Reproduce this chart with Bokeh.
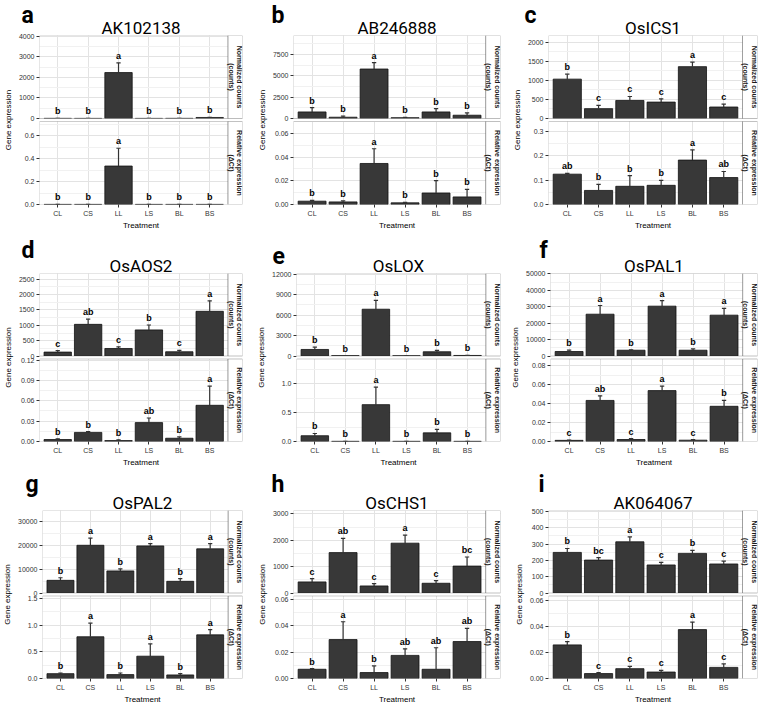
import math
from bokeh.plotting import figure
from bokeh.models import (Range1d, LinearAxis, FixedTicker, Grid, BoxAnnotation, Label, Title)
from bokeh.layouts import column, row
from bokeh.core.properties import value
from bokeh.embed import file_html
from bokeh.resources import INLINE

treatments = ["CL", "CS", "LL", "LS", "BL", "BS"]
top_strip = "Normalized counts\n(counts)"
bot_strip = "Relative expression\n(\u0394Ct)"

# ---- a: AK102138
AK102138_counts = [8, 6, 2230, 6, 8, 50]
AK102138_counts_se = [3, 2, 470, 2, 3, 10]
AK102138_counts_sig = ["b", "b", "a", "b", "b", "b"]
AK102138_rel = [0.001, 0.001, 0.335, 0.001, 0.001, 0.001]
AK102138_rel_se = [0.0003, 0.0002, 0.155, 0.0003, 0.0003, 0.0003]
AK102138_rel_sig = ["b", "b", "a", "b", "b", "b"]
# ---- b: AB246888
AB246888_counts = [770, 150, 5800, 100, 770, 385]
AB246888_counts_se = [500, 120, 740, 40, 380, 265]
AB246888_counts_sig = ["b", "b", "a", "b", "b", "b"]
AB246888_rel = [0.0028, 0.0022, 0.0346, 0.0014, 0.0097, 0.0064]
AB246888_rel_se = [0.0006, 0.0008, 0.0124, 0.0004, 0.0105, 0.0063]
AB246888_rel_sig = ["b", "b", "a", "b", "b", "b"]
# ---- c: OsICS1
OsICS1_counts = [1034, 259, 474, 431, 1362, 302]
OsICS1_counts_se = [130, 86, 104, 86, 121, 77]
OsICS1_counts_sig = ["b", "c", "c", "c", "a", "c"]
OsICS1_rel = [0.125, 0.058, 0.075, 0.079, 0.183, 0.111]
OsICS1_rel_se = [0.003, 0.025, 0.044, 0.020, 0.042, 0.025]
OsICS1_rel_sig = ["ab", "b", "b", "b", "a", "ab"]
# ---- d: OsAOS2
OsAOS2_counts = [128, 1032, 245, 851, 138, 1457]
OsAOS2_counts_se = [50, 170, 53, 160, 43, 341]
OsAOS2_counts_sig = ["c", "ab", "c", "b", "c", "a"]
OsAOS2_rel = [0.0029, 0.0134, 0.0014, 0.0278, 0.0048, 0.0533]
OsAOS2_rel_se = [0.0011, 0.0010, 0.0010, 0.0068, 0.0019, 0.0283]
OsAOS2_rel_sig = ["b", "b", "b", "ab", "b", "a"]
# ---- e: OsLOX
OsLOX_counts = [960, 50, 6864, 30, 624, 80]
OsLOX_counts_se = [336, 20, 1296, 10, 192, 20]
OsLOX_counts_sig = ["b", "b", "a", "b", "b", "b"]
OsLOX_rel = [0.100, 0.003, 0.639, 0.003, 0.150, 0.003]
OsLOX_rel_se = [0.039, 0.001, 0.305, 0.001, 0.061, 0.001]
OsLOX_rel_sig = ["b", "b", "a", "b", "b", "b"]
# ---- f: OsPAL1
OsPAL1_counts = [2745, 25490, 3530, 30390, 3530, 24900]
OsPAL1_counts_se = [785, 5290, 300, 3335, 784, 4120]
OsPAL1_counts_sig = ["b", "a", "b", "a", "b", "a"]
OsPAL1_rel = [0.0012, 0.0434, 0.0021, 0.0538, 0.0014, 0.0372]
OsPAL1_rel_se = [0.0003, 0.0049, 0.0010, 0.0048, 0.0006, 0.0062]
OsPAL1_rel_sig = ["c", "ab", "c", "a", "c", "b"]
# ---- g: OsPAL2
OsPAL2_counts = [5320, 20050, 9280, 19780, 4910, 18550]
OsPAL2_counts_se = [1090, 3000, 820, 960, 1090, 2190]
OsPAL2_counts_sig = ["b", "a", "b", "a", "b", "a"]
OsPAL2_rel = [0.091, 0.784, 0.073, 0.419, 0.067, 0.820]
OsPAL2_rel_se = [0.012, 0.255, 0.030, 0.231, 0.024, 0.097]
OsPAL2_rel_sig = ["b", "a", "b", "a", "b", "a"]
# ---- h: OsCHS1
OsCHS1_counts = [421, 1532, 268, 1890, 370, 1022]
OsCHS1_counts_se = [128, 537, 90, 307, 103, 344]
OsCHS1_counts_sig = ["c", "ab", "c", "a", "c", "bc"]
OsCHS1_rel = [0.0070, 0.0295, 0.0045, 0.0175, 0.0070, 0.0280]
OsCHS1_rel_se = [0.0005, 0.0135, 0.0050, 0.0050, 0.0163, 0.0100]
OsCHS1_rel_sig = ["b", "a", "b", "ab", "ab", "ab"]
# ---- i: AK064067
AK064067_counts = [249, 202, 314, 172, 243, 178]
AK064067_counts_se = [24, 15, 30, 16, 18, 18]
AK064067_counts_sig = ["b", "bc", "a", "c", "b", "c"]
AK064067_rel = [0.0260, 0.0038, 0.0076, 0.0050, 0.0378, 0.0086]
AK064067_rel_se = [0.0025, 0.0007, 0.0017, 0.0013, 0.0058, 0.0027]
AK064067_rel_sig = ["b", "c", "c", "c", "a", "c"]

# axis limits / ticks / decimals
panels = [
    ("a", "AK102138", AK102138_counts, AK102138_counts_se, AK102138_counts_sig,
     AK102138_rel, AK102138_rel_se, AK102138_rel_sig,
     4030, [0, 1000, 2000, 3000, 4000], 0.723, [0, 0.2, 0.4, 0.6], 1),
    ("b", "AB246888", AB246888_counts, AB246888_counts_se, AB246888_counts_sig,
     AB246888_rel, AB246888_rel_se, AB246888_rel_sig,
     9730, [0, 2500, 5000, 7500], 0.070, [0, 0.02, 0.04, 0.06], 2),
    ("c", "OsICS1", OsICS1_counts, OsICS1_counts_se, OsICS1_counts_sig,
     OsICS1_rel, OsICS1_rel_se, OsICS1_rel_sig,
     2180, [0, 500, 1000, 1500, 2000], 0.342, [0, 0.1, 0.2, 0.3], 1),
    ("d", "OsAOS2", OsAOS2_counts, OsAOS2_counts_se, OsAOS2_counts_sig,
     OsAOS2_rel, OsAOS2_rel_se, OsAOS2_rel_sig,
     2690, [0, 500, 1000, 1500, 2000, 2500], 0.1215, [0, 0.03, 0.06, 0.09, 0.12], 2),
    ("e", "OsLOX", OsLOX_counts, OsLOX_counts_se, OsLOX_counts_sig,
     OsLOX_rel, OsLOX_rel_se, OsLOX_rel_sig,
     12100, [0, 3000, 6000, 9000, 12000], 1.43, [0, 0.5, 1.0], 1),
    ("f", "OsPAL1", OsPAL1_counts, OsPAL1_counts_se, OsPAL1_counts_sig,
     OsPAL1_rel, OsPAL1_rel_se, OsPAL1_rel_sig,
     50300, [0, 10000, 20000, 30000, 40000, 50000], 0.0872, [0, 0.02, 0.04, 0.06, 0.08], 2),
    ("g", "OsPAL2", OsPAL2_counts, OsPAL2_counts_se, OsPAL2_counts_sig,
     OsPAL2_rel, OsPAL2_rel_se, OsPAL2_rel_sig,
     34650, [0, 10000, 20000, 30000], 1.55, [0, 0.5, 1.0, 1.5], 1),
    ("h", "OsCHS1", OsCHS1_counts, OsCHS1_counts_se, OsCHS1_counts_sig,
     OsCHS1_rel, OsCHS1_rel_se, OsCHS1_rel_sig,
     3130, [0, 1000, 2000, 3000], 0.0625, [0, 0.02, 0.04, 0.06], 2),
    ("i", "AK064067", AK064067_counts, AK064067_counts_se, AK064067_counts_sig,
     AK064067_rel, AK064067_rel_se, AK064067_rel_sig,
     506, [0, 100, 200, 300, 400, 500], 0.0638, [0, 0.02, 0.04, 0.06], 2),
]

# ---- layout / style
COL_LEFT = [33, 37, 40]
ROW_H = [235, 234, 237]
ROW_TOP = [35, 38, 41]
ROW_BOT = [31, 27, 27]
LETTER_DX = [-18, -22, -24, -18, -24, -11, -17, -22, -10]
ROW_LETTER_STANDOFF = [-23, -17, -11]
PANEL_W = 254
FW, SW, HT, HB, GAP = 194, 15, 83, 83, 3

BAR_FILL = "#383838"
BAR_LINE = "#111111"
GRID = "#e3e3e3"
GRID_MINOR = "#f1f1f1"
BORDER = "#555555"
STRIP_BORDER = "#333333"
TICK_TXT = "#333333"
FONT = "Liberation Sans"


def minor_of(ticks, lim):
    step = ticks[1] - ticks[0]
    return [t + step / 2 for t in ticks if t + step / 2 <= lim]


def make_panel(idx, spec):
    (letter, gene, tv, tse, tsig, bv, bse, bsig,
     tlim, tticks, blim, bticks, bdec) = spec
    r, c = divmod(idx, 3)
    bl = COL_LEFT[c]
    br = PANEL_W - bl - FW - SW
    F = HT + GAP + HB
    x_lo, x_hi = 0.4, len(treatments) + 0.6
    ux = (x_hi - x_lo) / FW          # x data units per pixel
    x_end = x_hi + SW * ux
    xs = list(range(1, len(treatments) + 1))

    # the default y range is the facet layout, in pixels (bottom facet 0..HB, top facet HB+GAP..F)
    p = figure(width=PANEL_W, height=ROW_H[r], x_range=Range1d(x_lo, x_end),
               y_range=Range1d(0, F), x_axis_type=None, y_axis_type=None,
               toolbar_location=None, output_backend="svg", title=None,
               min_border_left=bl, min_border_right=br,
               min_border_top=ROW_TOP[r], min_border_bottom=ROW_BOT[r])
    p.outline_line_color = None
    p.background_fill_color = "white"
    p.border_fill_color = "white"
    p.extra_y_ranges = {
        "top": Range1d(-(HB + GAP) / HT * tlim, tlim),
        "bot": Range1d(0, blim * F / HB),
    }

    p.add_layout(Title(text=gene, align="center", standoff=-4, text_font="Roboto",
                       text_font_size="17px", text_font_style="normal",
                       text_color="black"), "above")
    p.add_layout(Title(text=letter, align="left", offset=LETTER_DX[idx],
                       standoff=ROW_LETTER_STANDOFF[r], text_font="Roboto",
                       text_font_size="23px", text_font_style="bold",
                       text_color="black"), "above")

    # tick positions of both facets on the layout range
    def top_pos(v):
        return round(HB + GAP + v / tlim * HT, 3)

    def bot_pos(v):
        return round(v / blim * HB, 3)

    major_pos = [top_pos(v) for v in tticks] + [bot_pos(v) for v in bticks]
    major_lab = [str(int(v)) for v in tticks] + [f"{v:.{bdec}f}" for v in bticks]
    minor_pos = [top_pos(v) for v in minor_of(tticks, tlim)] + \
                [bot_pos(v) for v in minor_of(bticks, blim)]

    # grids
    p.add_layout(Grid(dimension=0, ticker=FixedTicker(ticks=xs), grid_line_color=GRID), "center")
    p.add_layout(Grid(dimension=1, ticker=FixedTicker(ticks=major_pos, minor_ticks=minor_pos),
                      grid_line_color=GRID, minor_grid_line_color=GRID_MINOR), "center")

    # bars, error bars, letters
    for rng, vals, ses, sig in (("top", tv, tse, tsig), ("bot", bv, bse, bsig)):
        ups = [v + s for v, s in zip(vals, ses)]
        p.vbar(x=xs, top=vals, bottom=0, width=0.9, y_range_name=rng,
               fill_color=BAR_FILL, line_color=BAR_LINE, line_width=0.8)
        p.segment(x0=xs, y0=vals, x1=xs, y1=ups, y_range_name=rng,
                  line_color="#333333", line_width=1.2)
        p.segment(x0=[x - 0.07 for x in xs], y0=ups, x1=[x + 0.07 for x in xs], y1=ups,
                  y_range_name=rng, line_color="#333333", line_width=1.2)
        p.text(x=xs, y=ups, text=sig, y_range_name=rng, text_align="center",
               text_baseline="bottom", y_offset=-2, text_font=value(FONT),
               text_font_size=value("9px"), text_font_style="bold", text_color="black")

    # gap between facets, strips, facet borders
    p.add_layout(BoxAnnotation(bottom=HB, top=HB + GAP, fill_color="white", fill_alpha=1,
                               line_color=None))
    for b0, b1, txt in ((HB + GAP, F, top_strip), (0, HB, bot_strip)):
        p.add_layout(BoxAnnotation(left=x_hi, right=x_end, bottom=b0, top=b1,
                                   fill_color="white", fill_alpha=1,
                                   line_color=STRIP_BORDER, line_width=1))
        p.add_layout(BoxAnnotation(left=x_lo, right=x_hi, bottom=b0, top=b1,
                                   fill_color=None, fill_alpha=0,
                                   line_color=BORDER, line_width=1))
        p.add_layout(Label(x=(x_hi + x_end) / 2, y=(b0 + b1) / 2, text=txt,
                           angle=-math.pi / 2, text_align="center", text_baseline="middle",
                           text_font=FONT, text_font_size="7px", text_font_style="bold",
                           text_color="#1a1a1a"))

    # y axis (both facets) with the shared label
    ay = LinearAxis(ticker=FixedTicker(ticks=major_pos),
                    major_label_overrides=dict(zip(major_pos, major_lab)),
                    axis_label="Gene expression")
    ay.axis_line_color = None
    ay.major_tick_out = 3
    ay.major_tick_in = 0
    ay.minor_tick_out = 0
    ay.minor_tick_in = 0
    ay.major_tick_line_color = "#333333"
    ay.major_label_text_font = FONT
    ay.major_label_text_font_size = "7px"
    ay.major_label_text_color = TICK_TXT
    ay.major_label_standoff = 2
    ay.axis_label_standoff = 3
    ay.axis_label_text_font = FONT
    ay.axis_label_text_font_size = "8px"
    ay.axis_label_text_font_style = "normal"
    ay.axis_label_text_color = "black"
    p.add_layout(ay, "left")

    ax_x = LinearAxis(ticker=FixedTicker(ticks=xs),
                      major_label_overrides={x: t for x, t in zip(xs, treatments)},
                      bounds=(x_lo, x_hi), axis_label="Treatment")
    ax_x.axis_line_color = None
    ax_x.major_tick_out = 3
    ax_x.major_tick_in = 0
    ax_x.minor_tick_out = 0
    ax_x.major_tick_line_color = "#333333"
    ax_x.major_label_text_font = FONT
    ax_x.major_label_text_font_size = "7px"
    ax_x.major_label_text_color = TICK_TXT
    ax_x.major_label_standoff = 2
    ax_x.axis_label_standoff = 1
    ax_x.axis_label_text_font = FONT
    ax_x.axis_label_text_font_size = "8px"
    ax_x.axis_label_text_font_style = "normal"
    ax_x.axis_label_text_color = "black"
    p.add_layout(ax_x, "below")
    return p


figs = [make_panel(i, s) for i, s in enumerate(panels)]
layout = column(row(*figs[0:3]), row(*figs[3:6]), row(*figs[6:9]))

open("out.html", "w").write(file_html(layout, INLINE))
